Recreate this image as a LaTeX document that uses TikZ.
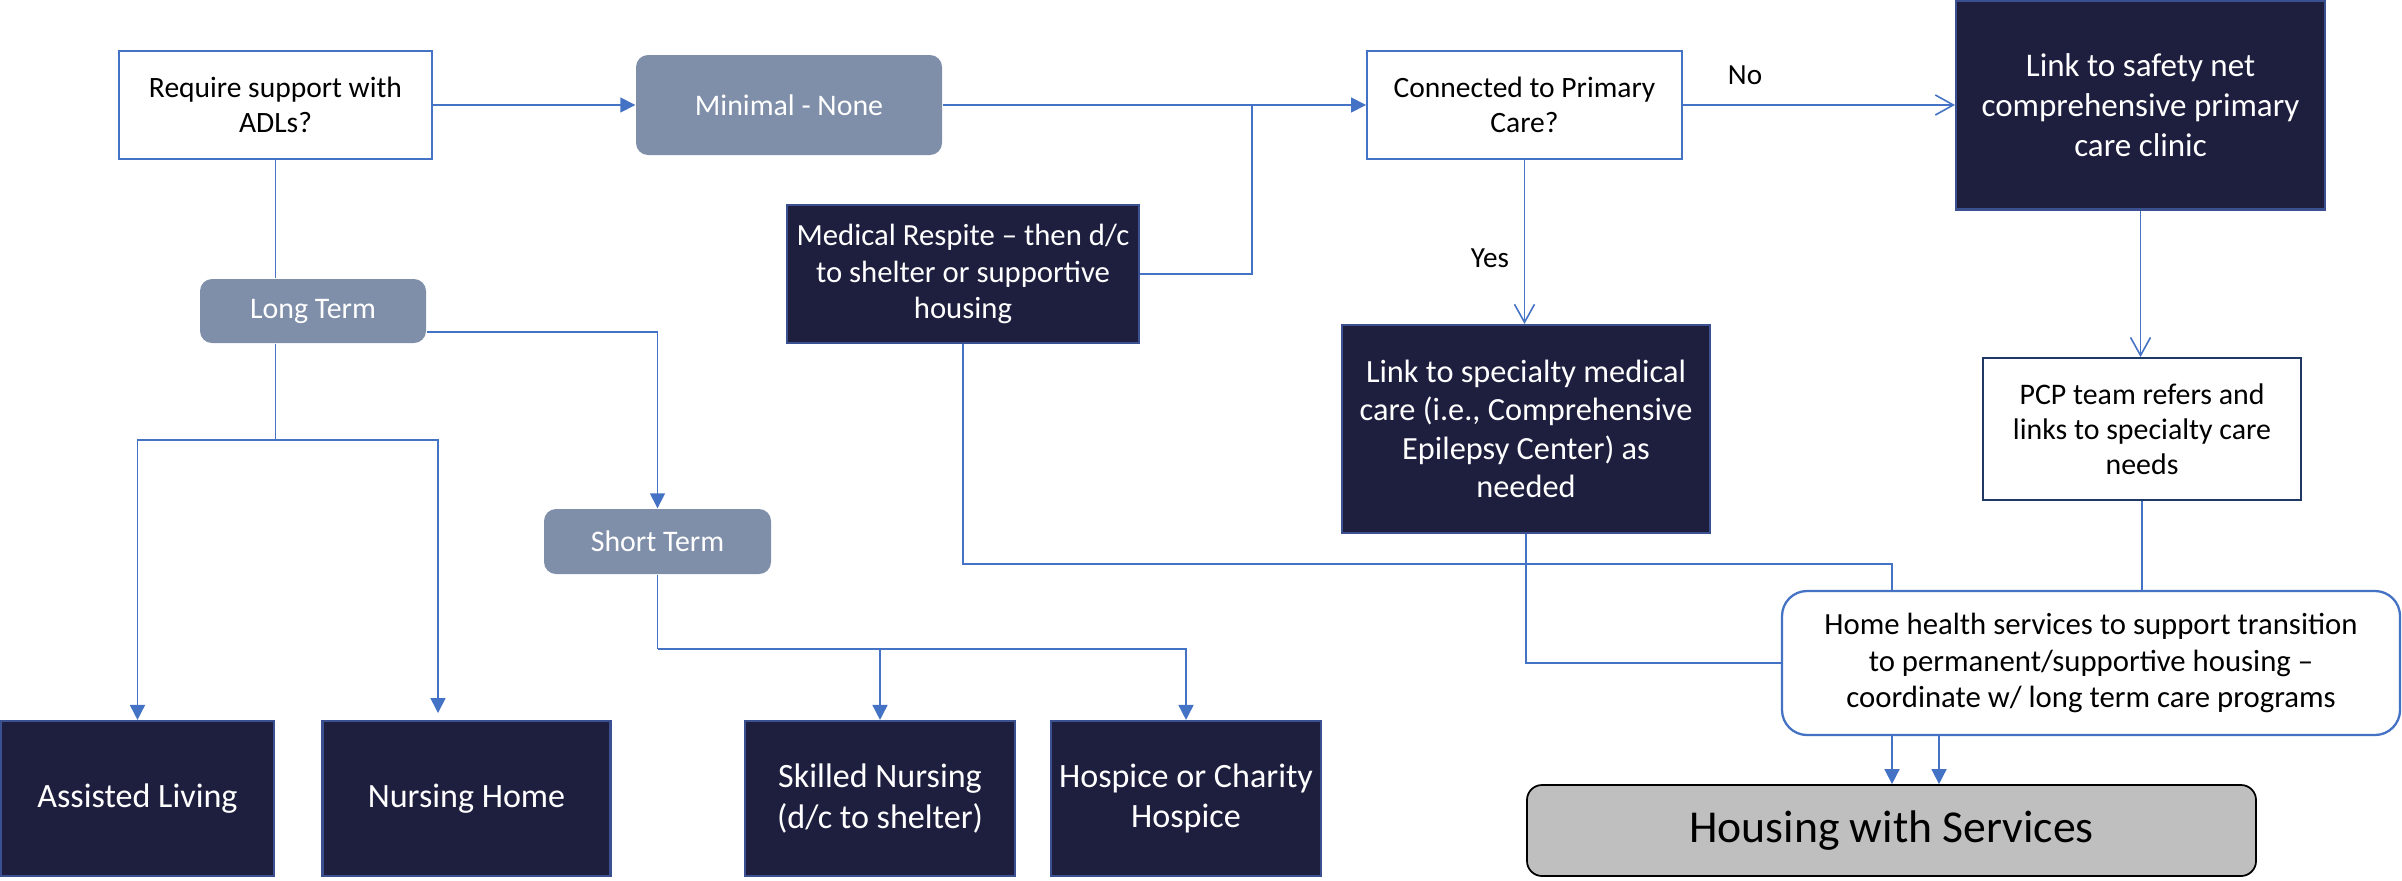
\documentclass[tikz,border=0pt]{standalone}
\usepackage{fontspec}
\setmainfont{Carlito}
\usetikzlibrary{arrows.meta}

\definecolor{wireblue}{HTML}{4472C4}
\definecolor{navy}{HTML}{1E1F3F}
\definecolor{navyedge}{HTML}{3A5090}
\definecolor{slate}{HTML}{7F8FA9}
\definecolor{pcpedge}{HTML}{1F3864}
\definecolor{housegray}{HTML}{BFBFBF}

\tikzset{
  whitebox/.style={draw=wireblue, line width=0.55pt, fill=white, inner sep=0pt, align=center, font=\fontsize{8.4}{10}\selectfont},
  graybox/.style={fill=slate, rounded corners=0.12cm, inner sep=0pt, text=white, font=\fontsize{8.5}{10}\selectfont},
  darkbox/.style={draw=navyedge, line width=0.6pt, fill=navy, text=white, inner sep=0pt, align=center, font=\fontsize{9.7}{11.4}\selectfont},
  housebox/.style={draw=black, line width=0.5pt, fill=housegray, rounded corners=0.15cm, inner sep=0pt, font=\fontsize{13}{15}\selectfont},
  wire/.style={draw=wireblue, line width=0.45pt},
  arr/.style={wire, -{Triangle[length=0.15cm, width=0.15cm]}},
  barb/.style={wire, -{Straight Barb[length=0.18cm, width=0.2cm]}},
  lbl/.style={font=\fontsize{8.3}{10}\selectfont}
}

\begin{document}
\begin{tikzpicture}
    \useasboundingbox (0,0) rectangle (24.02,-8.80);

    % top row
    \node[whitebox, minimum width=3.13cm, minimum height=1.08cm] (adl) at (2.755,-1.05) {Require support with\\ADLs?};
    \node[graybox, minimum width=3.06cm, minimum height=1.0cm] (minimal) at (7.89,-1.05) {Minimal - None};
    \node[whitebox, minimum width=3.15cm, minimum height=1.08cm] (primary) at (15.245,-1.05) {Connected to Primary\\Care?};
    \node[darkbox, font=\fontsize{9.4}{11.4}\selectfont, minimum width=3.69cm, minimum height=2.09cm] (safetynet) at (21.405,-1.05) {Link to safety net\\comprehensive primary\\care clinic};

    % middle
    \node[darkbox, font=\fontsize{8.75}{10.3}\selectfont, minimum width=3.52cm, minimum height=1.38cm] (respite) at (9.63,-2.74) {Medical Respite – then d/c\\to shelter or supportive\\housing};
    \node[graybox, minimum width=2.26cm, minimum height=0.64cm] (longterm) at (3.13,-3.11) {Long Term};
    \node[darkbox, font=\fontsize{9.2}{10.9}\selectfont, minimum width=3.68cm, minimum height=2.08cm] (specialty) at (15.26,-4.29) {Link to specialty medical\\care (i.e., Comprehensive\\Epilepsy Center) as\\needed};
    \node[whitebox, draw=pcpedge, font=\fontsize{8.5}{10}\selectfont, minimum width=3.18cm, minimum height=1.42cm] (pcp) at (21.42,-4.29) {PCP team refers and\\links to specialty care\\needs};
    \node[graybox, minimum width=2.27cm, minimum height=0.65cm] (shortterm) at (6.575,-5.415) {Short Term};
    \node[whitebox, rounded corners=0.25cm, line width=0.65pt, font=\fontsize{8.75}{10.45}\selectfont, minimum width=6.18cm, minimum height=1.44cm] (homehealth) at (20.91,-6.63) {Home health services to support transition\\to permanent/supportive housing –\\coordinate w/ long term care programs};

    % bottom row
    \node[darkbox, minimum width=2.73cm, minimum height=1.55cm] (assisted) at (1.375,-7.985) {Assisted Living};
    \node[darkbox, minimum width=2.88cm, minimum height=1.55cm] (nursing) at (4.665,-7.985) {Nursing Home};
    \node[darkbox, minimum width=2.70cm, minimum height=1.55cm] (skilled) at (8.80,-7.985) {Skilled Nursing\\(d/c to shelter)};
    \node[darkbox, minimum width=2.70cm, minimum height=1.55cm] (hospice) at (11.86,-7.985) {Hospice or Charity\\Hospice};
    \node[housebox, minimum width=7.29cm, minimum height=0.91cm] (housing) at (18.915,-8.305) {Housing with Services};

    \node[lbl] (no) at (17.45,-0.75) {No};
    \node[lbl] (yes) at (14.90,-2.58) {Yes};

    \coordinate (merge) at (12.52,-1.05);
    \coordinate (ltfork) at (2.755,-4.40);
    \coordinate (nursingtip) at (4.38,-7.13);
    \coordinate (stfork) at (6.575,-6.49);
    \coordinate (respitebend) at (18.92,-5.64);
    \coordinate (secondtip) at (19.39,-7.85);

    % connectors
    \draw[arr] (adl) -- (minimal);
    \draw[arr] (minimal) -- (primary);
    \draw[wire] (respite.east) -| (merge);
    \draw[barb] (primary) -- (safetynet);
    \draw[barb] (primary.south) -- (primary.south |- specialty.north);
    \draw[barb] (safetynet.south) -- (safetynet.south |- pcp.north);

    \draw[wire] (adl.south) -- (adl.south |- longterm.north);
    \draw[wire] (adl.south |- longterm.south) -- (ltfork);
    \draw[arr] (ltfork) -| (assisted.north);
    \draw[arr] (ltfork) -| (nursingtip);
    \draw[arr] ([yshift=-0.21cm]longterm.east) -| (shortterm.north);
    \draw[wire] (shortterm.south) -- (stfork);
    \draw[arr] (stfork) -| (skilled.north);
    \draw[arr] (stfork) -| (hospice.north);

    \draw[wire] (respite.south) |- (respitebend) -- (respitebend |- homehealth.north);
    \draw[wire] (specialty.south) |- (homehealth.west);
    \draw[wire] (pcp.south) -- (pcp.south |- homehealth.north);
    \draw[arr] (respitebend |- homehealth.south) -- (respitebend |- housing.north);
    \draw[arr] (secondtip |- homehealth.south) -- (secondtip |- housing.north);
\end{tikzpicture}
\end{document}
